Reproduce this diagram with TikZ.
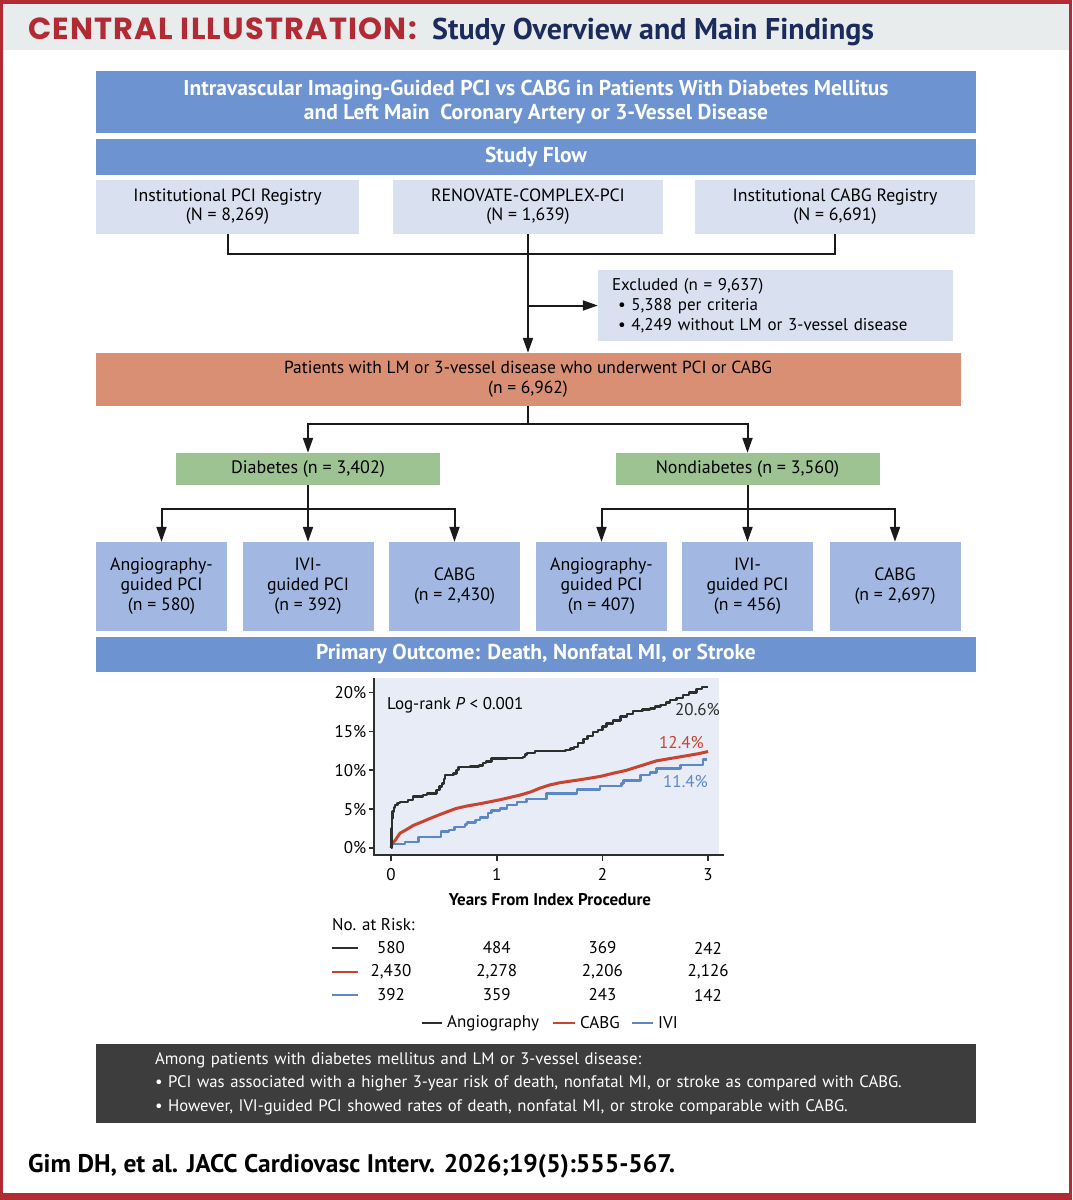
\documentclass[tikz,border=0pt]{standalone}
\usepackage{fontspec}
\setmainfont{PT Sans}
\newfontfamily\condfont{PT Sans}
\newfontfamily\titlefont{Poppins}[LetterSpace=4]
\usetikzlibrary{arrows.meta}
\definecolor{jaccred}{HTML}{B22A33}
\definecolor{bandgray}{HTML}{E8ECED}
\definecolor{navy}{HTML}{1B2B5B}
\definecolor{barblue}{HTML}{6D94D0}
\definecolor{regfill}{HTML}{D9E1F1}
\definecolor{patfill}{HTML}{D88F74}
\definecolor{grpgreen}{HTML}{9CC391}
\definecolor{armblue}{HTML}{A2B8E2}
\definecolor{plotbg}{HTML}{E8ECF6}
\definecolor{darkpanel}{HTML}{3D3D3D}
\definecolor{linegray}{HTML}{1A1A1A}
\definecolor{kmblack}{HTML}{2E2E2E}
\definecolor{kmred}{HTML}{C9432E}
\definecolor{kmblue}{HTML}{5C87C8}
\tikzset{
  bar/.style={fill=barblue,text=white,font=\condfont\bfseries\fontsize{21.5}{24}\selectfont,minimum width=880pt,inner sep=0pt,align=center},
  regbox/.style={fill=regfill,font=\condfont\fontsize{17.8}{19}\selectfont,minimum height=54pt,inner sep=0pt,align=center},
  grpbox/.style={fill=grpgreen,font=\condfont\fontsize{18}{20}\selectfont,minimum width=264pt,minimum height=32pt,inner sep=0pt},
  armbox/.style={fill=armblue,font=\condfont\fontsize{17.8}{20}\selectfont,minimum width=131pt,minimum height=89pt,inner sep=0pt,align=center},
  plain/.style={font=\fontsize{17}{20}\selectfont,inner sep=0pt},
  link/.style={line width=2pt,draw=linegray},
  flow/.style={link,-{Triangle[length=15pt,width=10pt]}},
  km/.style={line width=2.4pt,line join=round}
}
\begin{document}
\begin{tikzpicture}[x=1pt,y=-1pt]
\useasboundingbox (0,0) rectangle (1072,1200);
\fill[jaccred] (0,0) rectangle (1072,1200);
\fill[white] (3,4) rectangle (1069,1193);
\fill[bandgray] (3,4) rectangle (1069,50);
\node[anchor=base west,inner sep=0pt,text=jaccred,font=\titlefont\bfseries\fontsize{30.5}{30.5}\selectfont] (ttl) at (28,39) {CENTRAL ILLUSTRATION:};
\node[anchor=base west,inner sep=0pt,text=navy,font=\condfont\bfseries\fontsize{30}{30}\selectfont] (subttl) at (432,39) {Study Overview and Main Findings};

\node[bar,minimum height=62pt] (head) at (536,102) {Intravascular Imaging-Guided PCI vs CABG in Patients With Diabetes Mellitus\\and Left Main~ Coronary Artery or 3-Vessel Disease};
\node[bar,minimum height=36pt] (flowbar) at (536,157) {Study Flow};
\node[regbox,minimum width=263pt] (pcireg) at (227.5,207) {Institutional PCI Registry\\(N = 8,269)};
\node[regbox,minimum width=270pt] (renovate) at (528,207) {RENOVATE-COMPLEX-PCI\\(N = 1,639)};
\node[regbox,minimum width=280pt] (cabgreg) at (835,207) {Institutional CABG Registry\\(N = 6,691)};
\node[regbox,plain,minimum width=355pt,minimum height=71pt,text width=327pt,inner xsep=14pt,align=left] (excl) at (775.5,305.5) {Excluded (n = 9,637)\\\hspace*{6pt}\textbullet\ 5,388 per criteria\\\hspace*{6pt}\textbullet\ 4,249 without LM or 3-vessel disease};
\node[plain,font=\fontsize{17.5}{20}\selectfont,fill=patfill,minimum width=865pt,minimum height=53pt,align=center] (pts) at (528,379.5) {Patients with LM or 3-vessel disease who underwent PCI or CABG\\(n = 6,962)};
\node[grpbox] (dm) at (308,469) {Diabetes (n = 3,402)};
\node[grpbox] (nondm) at (747.5,469) {Nondiabetes (n = 3,560)};
\node[armbox] (dmangio) at (161.5,586.5) {Angiography-\\guided PCI\\(n = 580)};
\node[armbox] (dmivi) at (308,586.5) {IVI-\\guided PCI\\(n = 392)};
\node[armbox] (dmcabg) at (454.5,586.5) {CABG\\(n = 2,430)};
\node[armbox] (ndangio) at (601.5,586.5) {Angiography-\\guided PCI\\(n = 407)};
\node[armbox] (ndivi) at (747.5,586.5) {IVI-\\guided PCI\\(n = 456)};
\node[armbox] (ndcabg) at (895,586.5) {CABG\\(n = 2,697)};
\node[bar,minimum height=35pt] (outcome) at (536,654.5) {Primary Outcome: Death, Nonfatal MI, or Stroke};

\coordinate (regjoin) at (528,254);
\draw[link] (pcireg) |- (regjoin) -| (cabgreg);
\draw[flow] (renovate) -- (pts);
\draw[flow] (renovate |- excl) -- (excl);
\draw[link] (pts.south) -- ++(0,18) coordinate (ptsjoin);
\draw[flow] (ptsjoin) -| (dm);
\draw[flow] (ptsjoin) -| (nondm);
\draw[link] (dm.south) -- ++(0,24) coordinate (dmjoin);
\draw[link] (nondm.south) -- ++(0,24) coordinate (ndjoin);
\foreach \arm in {dmangio,dmivi,dmcabg} \draw[flow] (dmjoin) -| (\arm);
\foreach \arm in {ndangio,ndivi,ndcabg} \draw[flow] (ndjoin) -| (\arm);

\begin{scope}[shift={(391,848)},x=105.7pt,y=7.78pt]
\fill[plotbg] (-0.161,-0.9) rectangle (3.1,21.85);
\draw[line width=1.6pt,draw=kmblack] (-0.161,21.85) -- (-0.161,-0.9) -- (3.15,-0.9);
\foreach \p in {0,5,...,20} {
  \draw[line width=1.6pt,draw=kmblack] (-0.161,\p) -- (-0.208,\p);
  \node[plain,anchor=east] (ytick\p) at (-0.232,\p) {\p\%};
}
\foreach \t in {0,...,3} {
  \draw[line width=1.6pt,draw=kmblack] (\t,-0.9) -- (\t,-1.67);
  \node[plain] (xtick\t) at (\t,-3.4) {\t};
}
\draw[km,kmblue] plot[const plot] coordinates {(0,0) (0.005,0.5) (0.13,0.8) (0.26,1.45) (0.475,2.1) (0.55,2.3) (0.6,2.7) (0.7,3.0) (0.72,3.3) (0.8,3.6) (0.84,3.9) (0.92,4.5) (0.95,4.8) (1.03,5.1) (1.1,5.5) (1.19,5.9) (1.28,6.3) (1.47,7.0) (1.757,7.5) (1.98,8.0) (2.18,8.3) (2.2,8.7) (2.36,9.4) (2.45,9.7) (2.51,10.2) (2.74,10.7) (2.95,11.4) (2.99,11.4)};
\draw[km,kmred,line width=3pt] plot coordinates {(0,0) (0.01,0.5) (0.04,1.0) (0.085,1.9) (0.15,2.4) (0.21,2.9) (0.3,3.4) (0.37,3.8) (0.5,4.5) (0.62,5.1) (0.72,5.4) (0.845,5.7) (1.03,6.2) (1.22,6.8) (1.32,7.2) (1.41,7.7) (1.5,8.1) (1.6,8.4) (1.8,8.8) (1.98,9.2) (2.1,9.6) (2.23,10.0) (2.37,10.6) (2.51,11.2) (2.64,11.5) (2.77,11.8) (2.9,12.1) (3.0,12.4)};
\draw[km,kmblack] plot[const plot] coordinates {(0,0) (0.005,2.5) (0.01,3.8) (0.016,4.7) (0.03,5.2) (0.04,5.5) (0.06,5.8) (0.085,5.95) (0.16,6.2) (0.21,6.6) (0.3,6.8) (0.34,7.0) (0.43,7.45) (0.46,7.9) (0.48,8.3) (0.5,8.9) (0.51,9.4) (0.59,9.6) (0.62,10.0) (0.64,10.4) (0.75,10.5) (0.83,10.6) (0.87,10.9) (0.9,11.1) (0.95,11.5) (1.1,11.6) (1.25,11.7) (1.27,12.0) (1.285,12.25) (1.365,12.5) (1.65,12.6) (1.7,12.8) (1.73,13.0) (1.77,13.5) (1.82,14.0) (1.86,14.4) (1.91,14.9) (1.96,15.2) (2.0,15.6) (2.04,16.0) (2.1,16.4) (2.17,16.9) (2.23,17.2) (2.29,17.6) (2.38,17.8) (2.45,17.95) (2.5,18.2) (2.55,18.4) (2.6,18.7) (2.64,19.0) (2.7,19.3) (2.765,19.7) (2.82,20.0) (2.89,20.4) (2.94,20.7) (3.0,20.7)};
\end{scope}
\node[plain,anchor=west] (logrank) at (387,705) {Log-rank \textit{P} < 0.001};
\node[plain,anchor=east,text=kmblack] (lbangio) at (720,710) {20.6\%};
\node[plain,anchor=east,text=kmred] (lbcabg) at (704,743) {12.4\%};
\node[plain,anchor=east,text=kmblue] (lbivi) at (708,782) {11.4\%};
\node[plain,font=\bfseries\fontsize{17}{20}\selectfont] (xlab) at (550,900) {Years From Index Procedure};

\node[plain,anchor=west] (atrisk) at (332,925) {No. at Risk:};
\foreach \col/\yy in {kmblack/948,kmred/972,kmblue/995} \draw[\col,line width=2pt] (332,\yy) -- (358,\yy);
\foreach \n [count=\i from 0] in {580,484,369,242} \node[plain] (riska\i) at (391+105.7*\i,948) {\n};
\foreach \n [count=\i from 0] in {{2,430},{2,278},{2,206},{2,126}} \node[plain] (riskc\i) at (391+105.7*\i,972) {\n};
\foreach \n [count=\i from 0] in {392,359,243,142} \node[plain] (riski\i) at (391+105.7*\i,995) {\n};

\draw[kmblack,line width=2pt] (422,1023) -- (442,1023);
\node[plain,anchor=west] (lgangio) at (447,1023) {Angiography};
\draw[kmred,line width=2pt] (553,1023) -- (575,1023);
\node[plain,anchor=west] (lgcabg) at (580,1023) {CABG};
\draw[kmblue,line width=2pt] (632,1023) -- (653,1023);
\node[plain,anchor=west] (lgivi) at (658,1023) {IVI};

\node[fill=darkpanel,text=white,minimum height=79pt,text width=762pt,inner xsep=59pt,inner ysep=0pt,align=left,font=\condfont\fontsize{16.7}{23.5}\selectfont] (summary) at (536,1083.5) {\mbox{Among patients with diabetes mellitus and LM or 3-vessel disease:}\\\mbox{\textbullet\ PCI was associated with a higher 3-year risk of death, nonfatal MI, or stroke as compared with CABG.}\\\mbox{\textbullet\ However, IVI-guided PCI showed rates of death, nonfatal MI, or stroke comparable with CABG.}};
\node[anchor=base west,inner sep=0pt,font=\condfont\bfseries\fontsize{25.5}{25.5}\selectfont] (cite) at (28,1172) {Gim DH, et al. JACC Cardiovasc Interv. 2026;19(5):555-567.};
\end{tikzpicture}
\end{document}
